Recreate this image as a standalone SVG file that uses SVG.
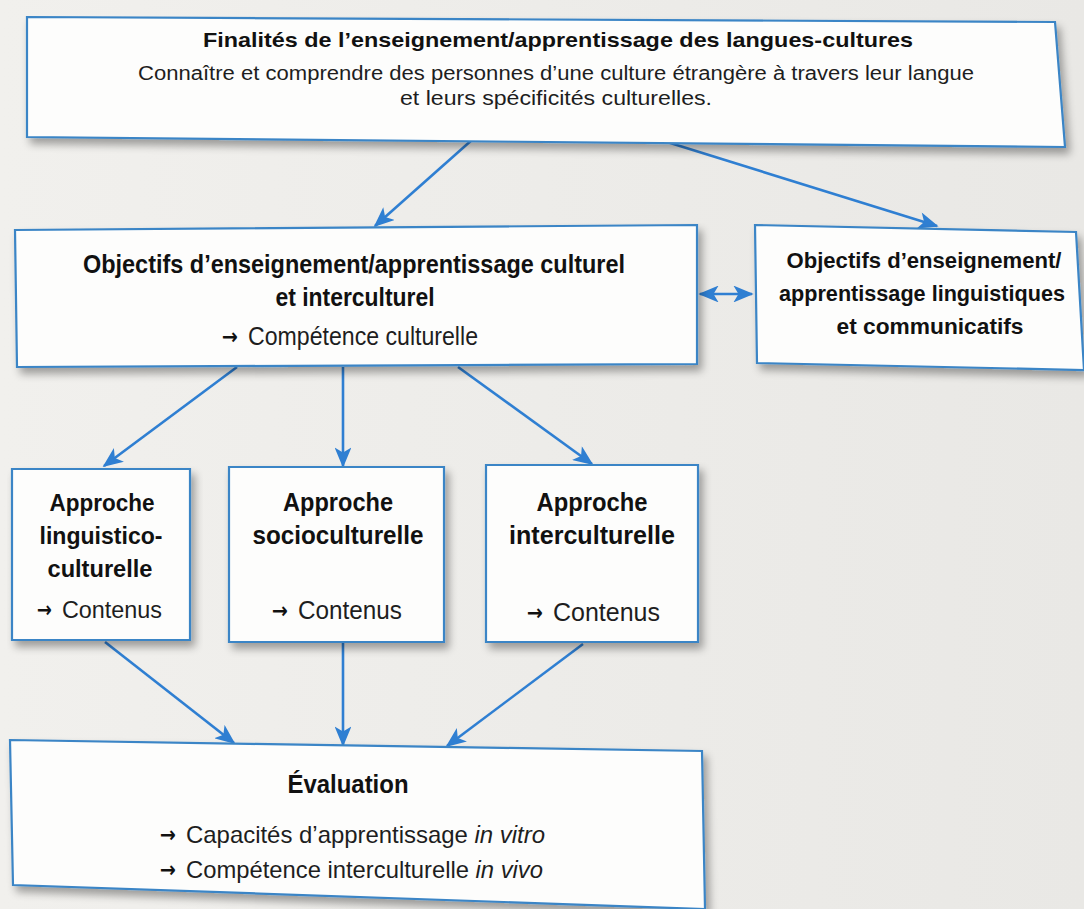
<svg xmlns="http://www.w3.org/2000/svg" width="1084" height="909" viewBox="0 0 1084 909">
<defs>
<style>
.box{fill:#fdfdfc;stroke:#3b85c6;stroke-width:2.2;filter:url(#sh)}
.con{stroke:#2f7fd2;stroke-width:2.6;fill:none;marker-end:url(#ah)}
.b{font-family:"Liberation Sans",Arial,sans-serif;font-weight:bold;fill:#111}
.r{font-family:"Liberation Sans",Arial,sans-serif;fill:#1e1e1e}
.i{font-style:italic}
.ar{font-family:"DejaVu Sans",sans-serif;font-weight:bold;font-size:22px;fill:#111}
</style>
<marker id="ah" viewBox="0 0 12 10" refX="11" refY="5" markerWidth="8" markerHeight="6.5" markerUnits="strokeWidth" orient="auto">
<path d="M0,0 L12,5 L0,10 L3,5 z" fill="#2f7fd2"/>
</marker>
<marker id="ahs" viewBox="0 0 12 10" refX="1" refY="5" markerWidth="8" markerHeight="6.5" markerUnits="strokeWidth" orient="auto">
<path d="M12,0 L0,5 L12,10 L9,5 z" fill="#2f7fd2"/>
</marker>
<filter id="sh" x="-5%" y="-5%" width="112%" height="120%">
<feGaussianBlur in="SourceAlpha" stdDeviation="4"/>
<feOffset dx="4" dy="6"/>
<feComponentTransfer><feFuncA type="linear" slope="0.35"/></feComponentTransfer>
<feMerge><feMergeNode/><feMergeNode in="SourceGraphic"/></feMerge>
</filter>
<linearGradient id="bg" x1="0" y1="0" x2="1" y2="0">
<stop offset="0" stop-color="#f1f0ed"/>
<stop offset="1" stop-color="#e9e8e5"/>
</linearGradient>
</defs>
<rect x="0" y="0" width="1084" height="909" fill="url(#bg)"/>

<g id="connectors">
<line class="con" x1="482" y1="131" x2="375" y2="226"/>
<line class="con" x1="622" y1="128" x2="937" y2="226"/>
<line class="con" x1="700" y1="294" x2="752" y2="294" marker-start="url(#ahs)"/>
<line class="con" x1="237" y1="367" x2="104" y2="466"/>
<line class="con" x1="343" y1="367" x2="343" y2="466"/>
<line class="con" x1="458" y1="367" x2="592" y2="464"/>
<line class="con" x1="105" y1="642" x2="234" y2="743"/>
<line class="con" x1="343" y1="643" x2="343" y2="745"/>
<line class="con" x1="583" y1="644" x2="447" y2="746"/>
</g>

<g id="finalites">
<polygon class="box" points="27,17 1055,22 1065,147 27,137"/>
<text class="b" x="558" y="47" font-size="21" text-anchor="middle" textLength="710" lengthAdjust="spacingAndGlyphs">Finalités de l’enseignement/apprentissage des langues-cultures</text>
<text class="r" x="556" y="80" font-size="20" text-anchor="middle" textLength="836" lengthAdjust="spacingAndGlyphs">Connaître et comprendre des personnes d’une culture étrangère à travers leur langue</text>
<text class="r" x="556" y="105" font-size="20" text-anchor="middle" textLength="312" lengthAdjust="spacingAndGlyphs">et leurs spécificités culturelles.</text>
</g>

<g id="objectifs-culturel">
<polygon class="box" points="15,230 697,225 697,364 17,367"/>
<text class="b" x="354" y="273" font-size="25" text-anchor="middle" textLength="542" lengthAdjust="spacingAndGlyphs">Objectifs d’enseignement/apprentissage culturel</text>
<text class="b" x="355" y="306" font-size="25" text-anchor="middle" textLength="159" lengthAdjust="spacingAndGlyphs">et interculturel</text>
<text class="ar" x="222" y="344" textLength="16" lengthAdjust="spacingAndGlyphs">→</text>
<text class="r" x="248" y="345" font-size="25" textLength="230" lengthAdjust="spacingAndGlyphs">Compétence culturelle</text>
</g>

<g id="objectifs-linguistiques">
<polygon class="box" points="755,225 1076,232 1084,370 757,363"/>
<text class="b" x="924" y="268" font-size="22" text-anchor="middle" textLength="275" lengthAdjust="spacingAndGlyphs">Objectifs d’enseignement/</text>
<text class="b" x="922" y="301" font-size="22" text-anchor="middle" textLength="286" lengthAdjust="spacingAndGlyphs">apprentissage linguistiques</text>
<text class="b" x="930" y="334" font-size="22" text-anchor="middle" textLength="187" lengthAdjust="spacingAndGlyphs">et communicatifs</text>
</g>

<g id="approche-linguistico">
<polygon class="box" points="12,469 190,469 190,640 12,640"/>
<text class="b" x="102" y="511" font-size="24" text-anchor="middle" textLength="105" lengthAdjust="spacingAndGlyphs">Approche</text>
<text class="b" x="101" y="544" font-size="24" text-anchor="middle" textLength="123" lengthAdjust="spacingAndGlyphs">linguistico-</text>
<text class="b" x="100" y="577" font-size="24" text-anchor="middle" textLength="105" lengthAdjust="spacingAndGlyphs">culturelle</text>
<text class="ar" x="37" y="617" textLength="15" lengthAdjust="spacingAndGlyphs">→</text>
<text class="r" x="62" y="618" font-size="24" textLength="100" lengthAdjust="spacingAndGlyphs">Contenus</text>
</g>

<g id="approche-socio">
<polygon class="box" points="229,467 444,467 444,642 229,642"/>
<text class="b" x="338" y="511" font-size="25" text-anchor="middle" textLength="110" lengthAdjust="spacingAndGlyphs">Approche</text>
<text class="b" x="338" y="544" font-size="25" text-anchor="middle" textLength="171" lengthAdjust="spacingAndGlyphs">socioculturelle</text>
<text class="ar" x="272" y="618" textLength="16" lengthAdjust="spacingAndGlyphs">→</text>
<text class="r" x="298" y="619" font-size="25" textLength="104" lengthAdjust="spacingAndGlyphs">Contenus</text>
</g>

<g id="approche-inter">
<polygon class="box" points="486,465 698,465 698,642 486,642"/>
<text class="b" x="592" y="511" font-size="25" text-anchor="middle" textLength="111" lengthAdjust="spacingAndGlyphs">Approche</text>
<text class="b" x="592" y="544" font-size="25" text-anchor="middle" textLength="166" lengthAdjust="spacingAndGlyphs">interculturelle</text>
<text class="ar" x="527" y="620" textLength="16" lengthAdjust="spacingAndGlyphs">→</text>
<text class="r" x="553" y="621" font-size="25" textLength="107" lengthAdjust="spacingAndGlyphs">Contenus</text>
</g>

<g id="evaluation">
<polygon class="box" points="10,740 702,751 705,909 13,885"/>
<text class="b" x="348" y="793" font-size="25" text-anchor="middle" textLength="121" lengthAdjust="spacingAndGlyphs">Évaluation</text>
<text class="ar" x="160" y="842" textLength="16" lengthAdjust="spacingAndGlyphs">→</text>
<text class="r" x="186" y="843" font-size="24" textLength="359" lengthAdjust="spacingAndGlyphs">Capacités d’apprentissage <tspan class="i">in vitro</tspan></text>
<text class="ar" x="160" y="877" textLength="16" lengthAdjust="spacingAndGlyphs">→</text>
<text class="r" x="186" y="878" font-size="24" textLength="357" lengthAdjust="spacingAndGlyphs">Compétence interculturelle <tspan class="i">in vivo</tspan></text>
</g>
</svg>
